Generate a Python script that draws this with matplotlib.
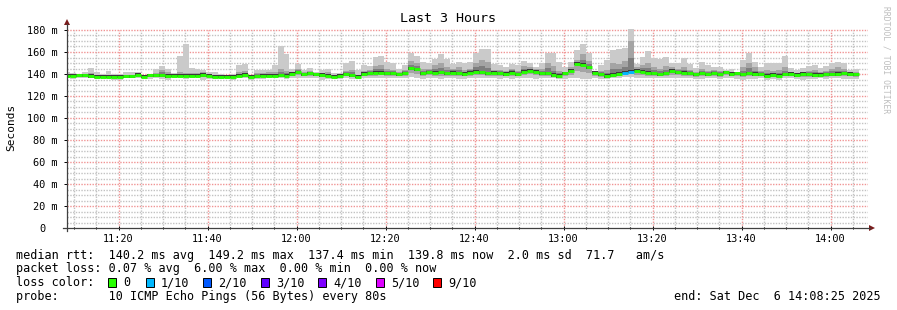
import numpy as np
import matplotlib
matplotlib.use("Agg")
import matplotlib.pyplot as plt
from matplotlib.patches import Polygon, Rectangle
from matplotlib.lines import Line2D

# ---------------- data ----------------
# time axis in minutes after 11:00; window 11:08:25 .. 14:08:25
x_start = 8.42
x_end = 188.42
first_col = 7.745          # start (min after 11:00) of first 80 s column
step_min = 80 / 60.0

median = [138.5, 138.5, 138.8, 138.8, 138.2, 137.6, 137.6, 137.6, 137.5, 137.5, 137.9, 137.9, 139.4, 137.6,
          138.8, 138.8, 138.8, 138.2, 138.5, 138.5, 138.5, 138.5, 138.5, 139.1, 138.5, 137.6, 137.6, 137.6,
          137.4, 138.5, 139.1, 137.4, 137.9, 138.5, 138.5, 138.5, 138.8, 138.5, 140.0, 141.5, 139.7, 140.6,
          139.7, 139.1, 138.5, 137.6, 138.2, 139.7, 138.8, 137.6, 140.0, 140.6, 141.2, 141.2, 140.6,
          140.6, 139.7, 140.6, 145.2, 144.2, 140.6, 141.5, 141.2, 141.5, 140.6, 141.2, 140.6, 140.0, 141.2,
          142.1, 141.5, 140.6, 141.2, 140.6, 140.0, 141.2, 139.7, 142.1, 143.0, 142.1, 140.6, 140.6,
          139.1, 138.2, 140.6, 143.0, 149.2, 148.5, 146.0, 141.0, 139.7, 138.2, 139.1, 140.0, 141.2, 142.1,
          143.0, 142.1, 141.2, 140.6, 139.7, 140.6, 142.7, 141.5, 141.2, 140.6, 139.7, 140.6, 139.7, 140.6,
          139.7, 141.5, 140.0, 140.6, 139.7, 140.6, 140.0, 139.7, 138.5, 139.1, 138.5, 139.7, 140.0, 139.1,
          140.0, 139.7, 139.1, 139.1, 139.7, 139.7, 140.0, 140.6, 140.0, 139.8]

smoke_max = [142.1, 141.2, 139.7, 142.1, 145.2, 142.1, 139.7, 142.7, 139.7, 139.7, 141.5, 141.5, 141.5, 139.1,
             140.0, 144.2, 147.3, 144.2, 140.6, 156.4, 167.3, 145.5, 144.2, 143.6, 142.1, 141.5, 139.7, 139.1,
             139.7, 148.2, 149.1, 139.1, 143.6, 143.6, 143.6, 148.2, 165.5, 158.2, 144.2, 149.1, 143.6, 145.2,
             142.1, 143.6, 144.2, 140.6, 140.6, 149.7, 151.8, 143.6, 148.2, 147.3, 155.8, 156.4, 151.2,
             150.3, 144.6, 148.2, 158.8, 156.4, 150.6, 149.7, 153.3, 158.2, 153.3, 148.8, 151.2, 150.3, 151.2,
             158.8, 162.4, 162.4, 148.8, 148.2, 146.7, 148.8, 148.2, 152.1, 150.3, 146.7, 150.3, 159.4,
             158.8, 150.6, 146.7, 151.2, 161.8, 167.3, 158.8, 140.6, 148.2, 152.7, 161.8, 162.4, 163.3, 181.0,
             149.1, 155.2, 161.2, 154.2, 153.3, 155.8, 150.3, 150.3, 154.2, 149.1, 145.2, 151.2, 148.2, 146.0,
             146.7, 143.6, 144.2, 142.1, 152.7, 159.4, 151.2, 146.7, 149.7, 149.7, 149.7, 156.7, 145.2, 143.6,
             145.2, 147.3, 148.2, 145.2, 147.3, 149.7, 151.2, 149.7, 143.6, 144.2]

smoke_mid = [140, 139.5, 139.5, 140, 141, 139, 138.5, 139, 138.5, 138.5, 139, 139.5, 140.5, 138.5,
             140, 141, 144, 142, 139.5, 142, 141, 141, 141, 142, 140, 139.5, 139, 138.5,
             138.5, 142, 143, 138.5, 141, 141, 141.5, 142, 145, 143, 142, 145, 141.5, 143,
             141, 141, 142, 139, 139.5, 143, 144, 139.5, 143, 144, 147, 148, 145,
             144, 142, 144, 152, 150, 145, 145, 148, 150, 146, 145, 146, 144, 145,
             150, 153, 151, 144, 144, 143, 145, 143, 147, 146, 145, 145, 150,
             147, 143, 142, 146, 153, 158, 152, 143, 143, 144, 150, 149, 152, 170,
             146, 148, 150, 146, 145, 147, 146, 145, 146, 144, 142, 145, 143, 144,
             143, 143, 142, 142, 146, 150, 146, 143, 144, 143, 144, 146, 142, 141,
             142, 143, 144, 142, 143, 145, 146, 145, 142, 142]

smoke_min = [136.5, 135.5, 136.5, 136.5, 136, 135.5, 136, 135.5, 134.5, 134.5, 136, 136, 136, 136,
             135.5, 136, 135.5, 135, 136, 136, 135.5, 136, 136, 135, 135.5, 135.5, 135.5, 136,
             135, 136, 136, 135, 135.5, 135.5, 136, 136, 136, 135.5, 136, 136.5, 136, 136,
             136, 135, 135.5, 135.5, 135.5, 136, 135.5, 135.5, 136, 136.5, 136, 136.5, 136.5,
             136.5, 136, 136, 137, 136.5, 135.5, 136.5, 136, 135.5, 136.5, 136, 135.5, 135.5, 136,
             136.5, 136, 136, 136, 135.5, 136, 135.5, 136, 136, 136.5, 135.5, 136, 136,
             136, 135.5, 135.5, 136, 136, 135.5, 135.5, 136, 135.5, 135.5, 136, 136, 137, 137,
             136, 136.5, 136, 136, 136, 136, 136, 136.5, 136, 136, 135.5, 135.5, 136, 136,
             135.5, 136, 136, 135.5, 135, 135.5, 135.5, 136, 135, 135.5, 135, 136, 136, 135.5,
             135, 135.5, 135.5, 136, 135.5, 136, 136, 135.5, 135.5, 135.5]

# loss per column, in tenths (10 pings per step)
loss = [0] * 94 + [1, 1] + [0] * 38

y_tick_values = [0, 20, 40, 60, 80, 100, 120, 140, 160, 180]
y_tick_labels = ["0  ", "20 m", "40 m", "60 m", "80 m", "100 m", "120 m", "140 m", "160 m", "180 m"]
x_tick_values = [20, 40, 60, 80, 100, 120, 140, 160, 180]
x_tick_labels = ["11:20", "11:40", "12:00", "12:20", "12:40", "13:00", "13:20", "13:40", "14:00"]

loss_levels = ["0", "1/10", "2/10", "3/10", "4/10", "5/10", "9/10"]
loss_colors = ["#26ff00", "#00b8ff", "#0059ff", "#5e00ff", "#7e00ff", "#dd00ff", "#ff0000"]
loss_color_map = {0: "#26ff00", 1: "#00b8ff", 2: "#0059ff", 3: "#5e00ff", 4: "#7e00ff", 5: "#dd00ff", 9: "#ff0000"}

title = "Last 3 Hours"
ylabel = "Seconds"
legend_rtt = "median rtt:  140.2 ms avg  149.2 ms max  137.4 ms min  139.8 ms now  2.0 ms sd  71.7   am/s"
legend_loss = "packet loss: 0.07 % avg  6.00 % max  0.00 % min  0.00 % now"
legend_probe = "probe:       10 ICMP Echo Pings (56 Bytes) every 80s"
legend_end = "end: Sat Dec  6 14:08:25 2025"
credit = "RRDTOOL / TOBI OETIKER"

# ---------------- figure ----------------
W, H = 897, 310
fig = plt.figure(figsize=(W / 100, H / 100), dpi=100)
fig.patch.set_facecolor("white")
MONO = "DejaVu Sans Mono"

ax_left, ax_right, ax_bottom_px, ax_top_px = 67, 868, 228, 26
ymax = (ax_bottom_px - ax_top_px) / 1.1
ax = fig.add_axes([ax_left / W, (H - ax_bottom_px) / H, (ax_right - ax_left) / W,
                   (ax_bottom_px - ax_top_px) / H])
ax.set_xlim(x_start, x_end)
ax.set_ylim(0, ymax)
ax.set_facecolor("white")
for s in ax.spines.values():
    s.set_visible(False)

# grid (1px dotted lines, snapped to pixel centres)
dot = (0, (1, 1))
vfrac = 180 / ymax
minor_col = "#c2c2c2"
major_col = "#f09494"
grid_lines = []
for v in np.arange(5, 181, 5):
    if v % 20 == 0:
        continue
    grid_lines.append(ax.axhline(v, color=minor_col, lw=1.0, ls=dot, zorder=0.5))
for v in np.arange(10, 190, 5):
    if v % 20 == 0:
        continue
    grid_lines.append(ax.axvline(v, ymin=0, ymax=vfrac, color=minor_col, lw=1.0, ls=dot, zorder=0.5))
for v in y_tick_values[1:]:
    grid_lines.append(ax.axhline(v, color=major_col, lw=1.0, ls=dot, zorder=0.6))
for v in x_tick_values:
    grid_lines.append(ax.axvline(v, ymin=0, ymax=vfrac, color=major_col, lw=1.0, ls=dot, zorder=0.6))
for gl in grid_lines:
    gl.set_snap(True)

# smoke
n = len(median)
med = np.array(median)
hi = np.array(smoke_max)
mid = np.array(smoke_mid)
lo = np.array(smoke_min)
edges = first_col + step_min * np.arange(n + 1)


def ext(a):
    return np.append(a, a[-1])


ax.fill_between(edges, ext(lo), ext(hi), step="post", color="#cacaca", lw=0, zorder=1)
ax.fill_between(edges, ext(med - 0.5 * (med - lo)), ext(mid), step="post", color="#a4a4a4", lw=0, zorder=1.1)
ax.fill_between(edges, ext(med - 1.0), ext(med + 0.45 * (mid - med) + 0.3), step="post", color="#7e7e7e", lw=0, zorder=1.2)
ax.fill_between(edges, ext(med - 1.4), ext(med + 1.4), step="post", color="#3a3a3a", lw=0, zorder=1.3)

# median line coloured by loss
for k in range(n):
    ax.hlines(med[k], edges[k], edges[k + 1], colors=loss_color_map[loss[k]], lw=2.1, zorder=2)

# ticks
ax.set_yticks(y_tick_values)
ax.set_yticklabels(y_tick_labels, fontfamily=MONO, fontsize=7.4)
ax.set_xticks(x_tick_values)
ax.set_xticklabels(x_tick_labels, fontfamily=MONO, fontsize=7.4)
ax.set_xticks(np.arange(10, 190, 5), minor=True)
ax.tick_params(axis="y", direction="out", length=2.5, width=0.7, pad=4, colors="black", labelcolor="black")
ax.tick_params(axis="x", which="both", direction="inout", length=3, width=0.7, pad=3, colors="black")
ax.tick_params(axis="x", which="minor", length=2)

# overlay in pixel coordinates
ov = fig.add_axes([0, 0, 1, 1], zorder=5)
ov.set_xlim(0, W)
ov.set_ylim(H, 0)
ov.axis("off")
ov.patch.set_alpha(0)

axis_col = "#404040"
arrow_col = "#7a1c1c"
ov.add_line(Line2D([67, 67], [231, 24], color=axis_col, lw=0.9))
ov.add_line(Line2D([63, 870], [228, 228], color=axis_col, lw=0.9))
ov.add_patch(Polygon([[64, 25], [70, 25], [67, 19]], closed=True, color=arrow_col, lw=0))
ov.add_patch(Polygon([[869, 225], [869, 231], [875, 228]], closed=True, color=arrow_col, lw=0))

ov.text(448, 19, title, fontfamily=MONO, fontsize=9.6, ha="center", va="center", color="black")
ov.text(11, 127, ylabel, fontfamily=MONO, fontsize=8, rotation=90, ha="center", va="center", color="black")
ov.text(886, 60, credit, fontfamily=MONO, fontsize=5.8, rotation=270, ha="center", va="center", color="#bdbdbd")

fs = 8.5
ov.text(16, 255, legend_rtt, fontfamily=MONO, fontsize=fs, ha="left", va="center")
ov.text(16, 268.5, legend_loss, fontfamily=MONO, fontsize=fs, ha="left", va="center")
ov.text(16, 282.5, "loss color:", fontfamily=MONO, fontsize=fs, ha="left", va="center")
box_x = [108, 146, 203, 261, 318, 376, 433]
for bx, lab, col in zip(box_x, loss_levels, loss_colors):
    ov.add_patch(Rectangle((bx, 278), 8, 9, facecolor=col, edgecolor="black", lw=0.7))
    ov.text(bx + 15, 282.5, lab, fontfamily=MONO, fontsize=fs, ha="left", va="center")
ov.text(16, 296.5, legend_probe, fontfamily=MONO, fontsize=fs, ha="left", va="center")
ov.text(881, 296.5, legend_end, fontfamily=MONO, fontsize=fs, ha="right", va="center")

fig.savefig("out.png", dpi=100, facecolor="white")
